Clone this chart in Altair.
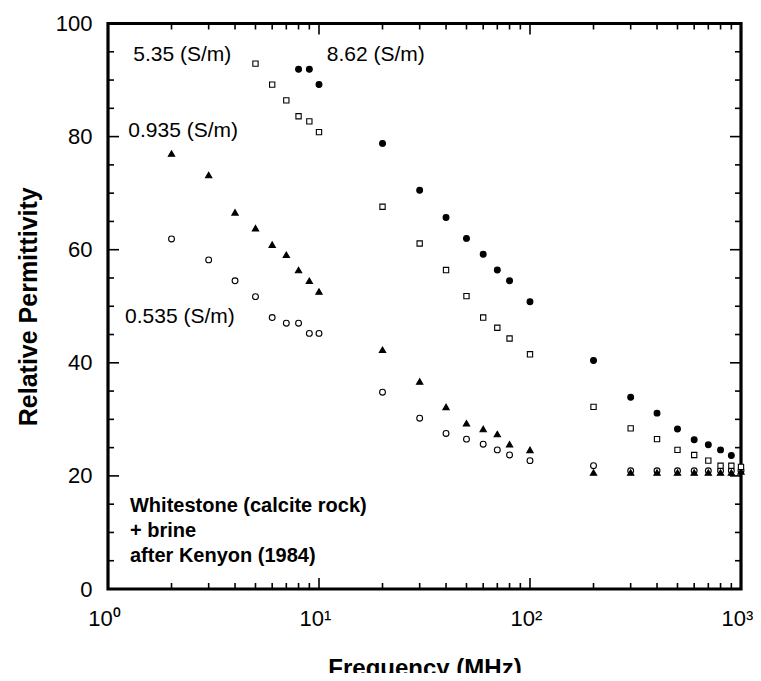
import altair as alt
import pandas as pd

# ---- data ----
freq_0535 = [2, 3, 4, 5, 6, 7, 8, 9, 10, 20, 30, 40, 50, 60, 70, 80, 100,
             200, 300, 400, 500, 600, 700, 800, 900, 1000]
eps_0535 = [61.9, 58.2, 54.5, 51.7, 48.0, 47.0, 47.0, 45.2, 45.2, 34.8, 30.2, 27.5,
            26.5, 25.6, 24.6, 23.7, 22.7, 21.8, 20.9, 20.9, 20.9, 20.9, 20.9, 20.9,
            20.9, 20.9]

freq_0935 = [2, 3, 4, 5, 6, 7, 8, 9, 10, 20, 30, 40, 50, 60, 70, 80, 100,
             200, 300, 400, 500, 600, 700, 800, 900, 1000]
eps_0935 = [77.0, 73.2, 66.6, 63.8, 60.9, 59.1, 56.4, 54.5, 52.6, 42.3, 36.7, 32.2,
            29.3, 28.3, 27.4, 25.6, 24.6, 20.6, 20.6, 20.6, 20.6, 20.6, 20.6, 20.6,
            20.6, 20.8]

freq_535 = [5, 6, 7, 8, 9, 10, 20, 30, 40, 50, 60, 70, 80, 100,
            200, 300, 400, 500, 600, 700, 800, 900, 1000]
eps_535 = [92.9, 89.2, 86.4, 83.6, 82.7, 80.8, 67.6, 61.1, 56.4, 51.8, 48.0, 46.2,
           44.3, 41.5, 32.2, 28.4, 26.5, 24.6, 23.7, 22.7, 21.8, 21.8, 21.6]

freq_862 = [8, 9, 10, 20, 30, 40, 50, 60, 70, 80, 100,
            200, 300, 400, 500, 600, 700, 800, 900]
eps_862 = [91.9, 91.9, 89.2, 78.8, 70.5, 65.7, 62.0, 59.2, 56.4, 54.5, 50.8,
           40.4, 33.9, 31.1, 28.3, 26.4, 25.5, 24.6, 23.6]

x_major = [1, 10, 100, 1000]
x_minor = [2, 3, 4, 5, 6, 7, 8, 9, 20, 30, 40, 50, 60, 70, 80, 90,
           200, 300, 400, 500, 600, 700, 800, 900]
y_major = [0, 20, 40, 60, 80, 100]
y_minor = [5, 10, 15, 25, 30, 35, 45, 50, 55, 65, 70, 75, 85, 90, 95]

label_text = ["5.35 (S/m)", "8.62 (S/m)", "0.935 (S/m)", "0.535 (S/m)"]
label_freq = [1.318, 10.88, 1.248, 1.204]
label_eps = [93.45, 93.45, 79.9, 47.0]

note_text = ["Whitestone (calcite rock)\n+ brine\nafter Kenyon (1984)"]
note_freq = [1.271]
note_eps = [13.55]

# ---- tables ----
d0535 = pd.DataFrame({"freq": freq_0535, "eps": eps_0535})
d0935 = pd.DataFrame({"freq": freq_0935, "eps": eps_0935})
d535 = pd.DataFrame({"freq": freq_535, "eps": eps_535})
d862 = pd.DataFrame({"freq": freq_862, "eps": eps_862})
labels_df = pd.DataFrame({"text": label_text, "freq": label_freq, "eps": label_eps})
note_df = pd.DataFrame({"text": note_text, "freq": note_freq, "eps": note_eps})
xmaj_df = pd.DataFrame({"v": x_major})
xmin_df = pd.DataFrame({"v": x_minor})
ymaj_df = pd.DataFrame({"v": y_major})
ymin_df = pd.DataFrame({"v": y_minor})

W, H = 633, 565.5
FONT = "Liberation Sans"
MAJ, MIN = 11, 6

xscale = alt.Scale(type="log", domain=[1, 1000], nice=False)
yscale = alt.Scale(domain=[0, 100], nice=False, zero=False)

x_main = alt.Axis(orient="bottom", values=x_major,
                  labelExpr="'10' + ['\u2070', '\u00b9', '\u00b2', '\u00b3'][round(log(datum.value)/LN10)]",
                  ticks=False, domain=False, grid=False, labelFont=FONT,
                  labelFontSize=22, labelColor="black", labelPadding=19,
                  labelOffset=-4, labelFlush=False, labelOverlap=False,
                  labelBound=False, title="Frequency (MHz)", titleFont=FONT,
                  titleFontSize=24, titleFontWeight="bold", titleColor="black",
                  titlePadding=27)
y_main = alt.Axis(orient="left", values=y_major, ticks=False, domain=False,
                  grid=False, labelFont=FONT, labelFontSize=22, labelColor="black",
                  labelPadding=16, labelFlush=False, labelOverlap=False,
                  title="Relative Permittivity", titleFont=FONT, titleFontSize=25,
                  titleFontWeight="bold", titleColor="black", titlePadding=14)


def series(data, shape, fill, size, xaxis=None, yaxis=None):
    return alt.Chart(data).mark_point(shape=shape, filled=True, fill=fill,
                                      stroke="black", strokeWidth=1.1, size=size,
                                      opacity=1).encode(
        x=alt.X("freq:Q", scale=xscale, axis=xaxis),
        y=alt.Y("eps:Q", scale=yscale, axis=yaxis),
    )


pts = [
    series(d0535, "circle", "white", 34, x_main, y_main),
    series(d0935, "triangle-up", "black", 40),
    series(d535, "square", "white", 28),
    series(d862, "circle", "black", 34),
]


def xticks(data, edge, inner):
    return alt.Chart(data).mark_rule(color="black", strokeWidth=1.6).encode(
        x=alt.X("v:Q", scale=xscale, axis=None),
        y=alt.value(edge), y2=alt.value(inner))


def yticks(data, edge, inner):
    return alt.Chart(data).mark_rule(color="black", strokeWidth=1.6).encode(
        y=alt.Y("v:Q", scale=yscale, axis=None),
        x=alt.value(edge), x2=alt.value(inner))


ticks = [
    xticks(xmaj_df, H, H - MAJ), xticks(xmin_df, H, H - MIN),
    xticks(xmaj_df, 0, MAJ), xticks(xmin_df, 0, MIN),
    yticks(ymaj_df, 0, MAJ), yticks(ymin_df, 0, MIN),
    yticks(ymaj_df, W, W - MAJ), yticks(ymin_df, W, W - MIN),
]

labels = alt.Chart(labels_df).mark_text(
    align="left", baseline="alphabetic", font=FONT, fontSize=21, color="black"
).encode(
    x=alt.X("freq:Q", scale=xscale, axis=None),
    y=alt.Y("eps:Q", scale=yscale, axis=None),
    text="text:N",
)

note = alt.Chart(note_df).mark_text(
    align="left", baseline="alphabetic", font=FONT, fontSize=20, fontWeight="bold",
    color="black", lineBreak="\n", lineHeight=24.8
).encode(
    x=alt.X("freq:Q", scale=xscale, axis=None),
    y=alt.Y("eps:Q", scale=yscale, axis=None),
    text="text:N",
)

chart = alt.layer(*pts, *ticks, labels, note).resolve_axis(
    x="independent", y="independent"
).properties(
    width=W, height=H,
    autosize=alt.AutoSizeParams(type="none"),
    padding={"left": 100, "top": 15.5, "right": 12, "bottom": 84},
    background="white",
).configure_view(stroke="black", strokeWidth=3.2)

chart.save("out.html", embed_options={"renderer": "svg", "actions": False})
